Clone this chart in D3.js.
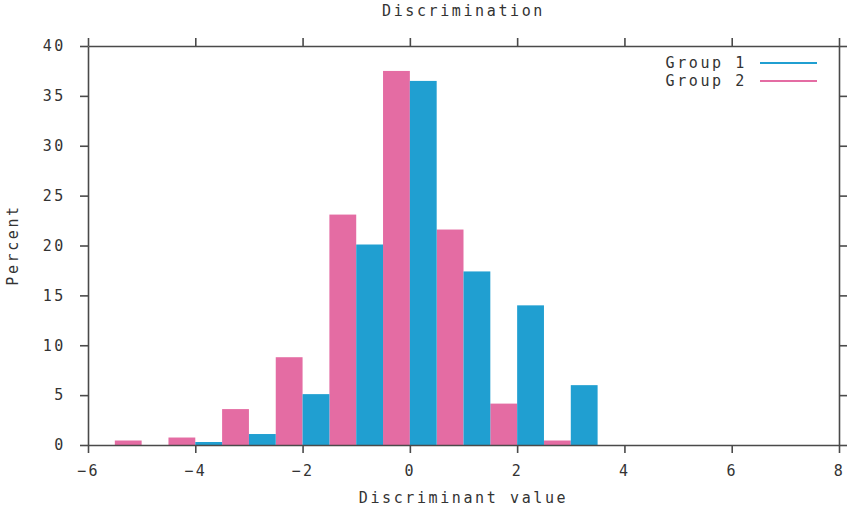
<!DOCTYPE html>
<html>
<head>
<meta charset="utf-8">
<script src="https://cdn.jsdelivr.net/npm/d3@7/dist/d3.min.js"></script>
<style>
  body { margin: 0; background: #fff; }
  #chart { width: 853px; height: 511px; }
  text { font-family: "DejaVu Sans Mono", monospace; font-size: 15px; fill: #333; letter-spacing: 2.6px; }
</style>
</head>
<body>
<div id="chart"></div>
<script>
// bin centres and percents
const group1Bins = [-4, -3, -2, -1, 0, 1, 2, 3];
const group1Pct  = [0.3, 1.1, 5.1, 20.1, 36.5, 17.4, 14.0, 6.0];
const group2Bins = [-5.5, -4.5, -3.5, -2.5, -1.5, -0.5, 0.5, 1.5, 2.5];
const group2Pct  = [0.45, 0.75, 3.6, 8.8, 23.1, 37.5, 21.6, 4.15, 0.45];
const xTicks = [-6, -4, -2, 0, 2, 4, 6, 8];
const yTicks = [0, 5, 10, 15, 20, 25, 30, 35, 40];
const legendNames = ["Group 1", "Group 2"];

const blue = "#209fd1";
const pink = "#e46ca3";
const axisColor = "#4a4a4a";

const width = 853, height = 511;
const margin = {top: 46, left: 88, right: 14, bottom: 66};

const canvas = d3.select("#chart")
    .append("svg")
    .attr("width", width)
    .attr("height", height);

const xScale = d3.scaleLinear()
    .domain([-6, 8])
    .range([margin.left, width - margin.right]);

const yScale = d3.scaleLinear()
    .domain([0, 40])
    .range([height - margin.bottom, margin.top]);

/*
  BARS  (each bar is half a unit wide)
*/
const g1 = group1Bins.map((b, i) => ({x0: b, x1: b + 0.5, v: group1Pct[i]}));
const g2 = group2Bins.map((b, i) => ({x0: b, x1: b + 0.5, v: group2Pct[i]}));

function drawBars(data, color) {
    canvas.append("g").selectAll("rect")
        .data(data)
        .enter()
        .append("rect")
            .attr("x", d => xScale(d.x0))
            .attr("width", d => xScale(d.x1) - xScale(d.x0))
            .attr("y", d => yScale(d.v))
            .attr("height", d => yScale(0) - yScale(d.v))
            .attr("fill", color);
}
drawBars(g2, pink);
drawBars(g1, blue);

/*
  AXES  (box with outward ticks on every side)
*/
function styleAxis(g) {
    g.selectAll("path, line").attr("stroke", axisColor).attr("stroke-width", 1.6);
    g.selectAll("text").style("font-family", "DejaVu Sans Mono, monospace")
        .style("font-size", "15px").attr("fill", "#333");
}

canvas.append("g")
    .attr("transform", `translate(0,${yScale(0)})`)
    .call(d3.axisBottom(xScale).tickValues(xTicks).tickFormat(d => d < 0 ? "\u2212" + Math.abs(d) : d).tickSize(8).tickSizeOuter(0).tickPadding(12))
    .call(styleAxis);

canvas.append("g")
    .attr("transform", `translate(0,${yScale(40)})`)
    .call(d3.axisTop(xScale).tickValues(xTicks).tickFormat("").tickSize(8).tickSizeOuter(0))
    .call(styleAxis);

canvas.append("g")
    .attr("transform", `translate(${xScale(-6)},0)`)
    .call(d3.axisLeft(yScale).tickValues(yTicks).tickSize(8).tickSizeOuter(0).tickPadding(14))
    .call(styleAxis);

canvas.append("g")
    .attr("transform", `translate(${xScale(8)},0)`)
    .call(d3.axisRight(yScale).tickValues(yTicks).tickFormat("").tickSize(8).tickSizeOuter(0))
    .call(styleAxis);

/*
  LABELS
*/
canvas.append("text")
    .attr("x", (xScale(-6) + xScale(8)) / 2)
    .attr("y", 16)
    .attr("text-anchor", "middle")
    .text("Discrimination");

canvas.append("text")
    .attr("x", (xScale(-6) + xScale(8)) / 2)
    .attr("y", 503)
    .attr("text-anchor", "middle")
    .text("Discriminant value");

canvas.append("text")
    .attr("transform", "rotate(-90)")
    .attr("x", -245)
    .attr("y", 18)
    .attr("text-anchor", "middle")
    .text("Percent");

/*
  LEGEND
*/
const legend = canvas.append("g");
[blue, pink].forEach((c, i) => {
    const y = 63 + i * 18;
    legend.append("text")
        .attr("x", 747)
        .attr("y", y + 5)
        .attr("text-anchor", "end")
        .text(legendNames[i]);
    legend.append("line")
        .attr("x1", 760).attr("x2", 817)
        .attr("y1", y).attr("y2", y)
        .attr("stroke", c)
        .attr("stroke-width", 2);
});
</script>
</body>
</html>
